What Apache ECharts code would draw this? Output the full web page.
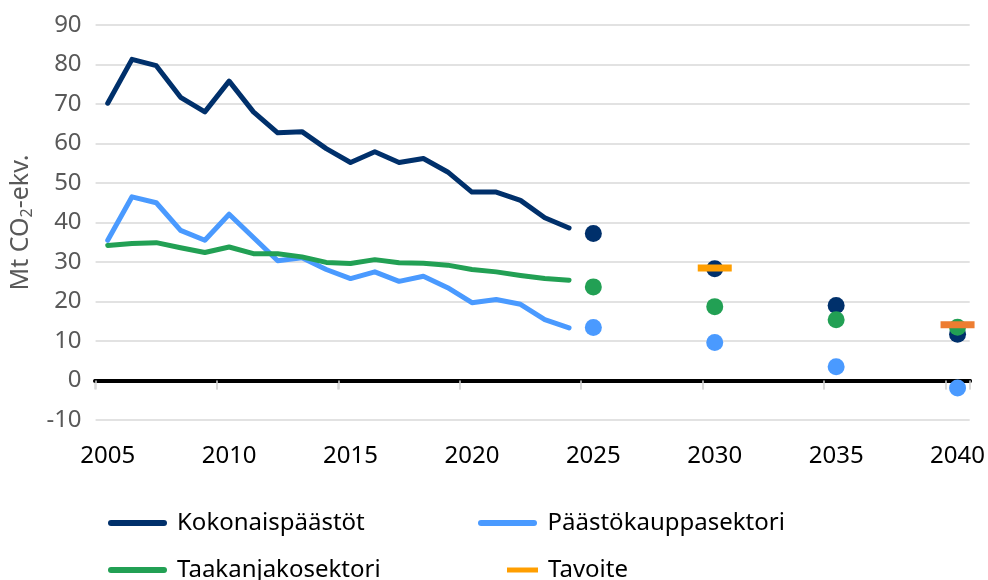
<!DOCTYPE html>
<html>
<head>
<meta charset="utf-8">
<script src="https://cdn.jsdelivr.net/npm/echarts@6/dist/echarts.min.js"></script>
<style>
  html, body { margin: 0; padding: 0; background: #fff; }
  #chart { width: 988px; height: 580px; }
</style>
</head>
<body>
<div id="chart"></div>
<script>
// vuodet (kategoria-akseli)
const years = [
  "2005", "2006", "2007", "2008", "2009", "2010", "2011", "2012", "2013",
  "2014", "2015", "2016", "2017", "2018", "2019", "2020", "2021", "2022",
  "2023", "2024", "2025", "2026", "2027", "2028", "2029", "2030", "2031",
  "2032", "2033", "2034", "2035", "2036", "2037", "2038", "2039", "2040",
];

// toteutuneet päästöt 2005-2024
const kokonais = [70.2, 81.3, 79.7, 71.7, 68.0, 75.8, 68.0, 62.7, 63.0, 58.7,
  55.2, 57.9, 55.2, 56.2, 52.8, 47.7, 47.7, 45.6, 41.2, 38.6];
const paastokauppa = [35.5, 46.5, 45.0, 38.0, 35.5, 42.1, 36.2, 30.3, 31.1, 28.1,
  25.8, 27.5, 25.1, 26.4, 23.5, 19.7, 20.5, 19.3, 15.4, 13.3];
const taakanjako = [34.2, 34.7, 34.9, 33.6, 32.4, 33.8, 32.1, 32.1, 31.3, 29.9,
  29.6, 30.6, 29.8, 29.7, 29.2, 28.1, 27.5, 26.6, 25.8, 25.4];

// ennusteet
const ennusteYears = ["2025", "2030", "2035", "2040"];
const kokonaisEnnuste = [37.2, 28.3, 19.0, 11.7];
const paastokauppaEnnuste = [13.4, 9.6, 3.5, -1.9];
const taakanjakoEnnuste = [23.7, 18.7, 15.4, 13.5];

// tavoitteet
const tavoiteYears = ["2030", "2040"];
const tavoite = [28.5, 14.1];

const navy = "#00306B";
const blue = "#4A9AFF";
const green = "#22A054";
const orange = "#FF9E00";
const tavoiteColors = ["#FF9E00", "#ED7D31"];

const font = "Noto Sans";

const pair = (xs, ys) => xs.map((x, i) => [x, ys[i]]);

const lineSeries = (name, data, color) => ({
  name: name,
  type: "line",
  data: data,
  symbol: "none",
  lineStyle: { color: color, width: 5, cap: "round", join: "round" },
  itemStyle: { color: color },
  z: 3,
});

const dotSeries = (name, data, color, z) => ({
  name: name,
  type: "scatter",
  data: pair(ennusteYears, data),
  symbolSize: 17,
  itemStyle: { color: color, opacity: 1 },
  z: z,
});

const lineIcon = "path://M3,0H56A3,3,0,0,1,56,6H3A3,3,0,0,1,3,0Z";

const legendItem = (name, left, top, width, height, icon, color) => ({
  left: left,
  top: top,
  itemWidth: width,
  itemHeight: height,
  data: [{ name: name, icon: icon, itemStyle: { color: color } }],
  selectedMode: false,
  textStyle: { fontFamily: font, fontSize: 24, color: "#000", padding: [0, 0, 0, 5] },
});

const tickStyle = { color: "#D9D9D9", width: 1.5 };
const gridRect = { left: 95, right: 18, top: 25, bottom: 160 };

const option = {
  animation: false,
  // toinen, samankokoinen grid vain alaspäin osoittavia väliviivoja varten
  grid: [gridRect, gridRect],
  legend: [
    legendItem("Kokonaispäästöt", 103, 506, 59, 6, lineIcon, navy),
    legendItem("Päästökauppasektori", 473, 506, 60, 6, lineIcon, blue),
    legendItem("Taakanjakosektori", 103, 553, 59, 6, lineIcon, green),
    legendItem("Tavoite", 502, 553, 31, 5, "rect", orange),
  ],
  xAxis: [
    {
      // alareunan vuosiluvut
      type: "category",
      data: years,
      position: "bottom",
      boundaryGap: true,
      axisLine: { show: false, onZero: false },
      axisTick: { show: false },
      splitLine: { show: false },
      axisLabel: {
        interval: 4,
        margin: 24,
        fontFamily: font,
        fontSize: 24,
        color: "#000",
      },
    },
    {
      // nollaviiva ja väliviivat ylöspäin
      type: "category",
      data: years,
      boundaryGap: true,
      axisLine: { show: true, onZero: true, lineStyle: { color: "#000", width: 4 } },
      axisTick: { show: true, interval: 4, inside: true, length: 9, lineStyle: tickStyle },
      axisLabel: { show: false },
      splitLine: { show: false },
      z: 2,
    },
    {
      // väliviivat alaspäin
      gridIndex: 1,
      type: "category",
      data: years,
      boundaryGap: true,
      axisLine: { show: true, onZero: true, lineStyle: { color: "#000", width: 4 } },
      axisTick: { show: true, interval: 4, inside: false, length: 9, lineStyle: tickStyle },
      axisLabel: { show: false },
      splitLine: { show: false },
      z: 1,
    },
  ],
  yAxis: [
    {
      type: "value",
      min: -10,
      max: 90,
      interval: 10,
      name: "Mt CO{sub|2}-ekv.",
      nameLocation: "middle",
      nameGap: 58,
      nameTextStyle: {
        fontFamily: font,
        fontSize: 25,
        color: "#595959",
        rich: {
          sub: { fontFamily: font, fontSize: 16, color: "#595959", verticalAlign: "bottom", padding: [14, 0, 0, 0] },
        },
      },
      axisLine: { show: false },
      axisTick: { show: false },
      axisLabel: { margin: 14, fontFamily: font, fontSize: 24, color: "#595959" },
      splitLine: { lineStyle: { color: "#D9D9D9", width: 1.5 } },
    },
    {
      gridIndex: 1,
      type: "value",
      min: -10,
      max: 90,
      interval: 10,
      show: false,
      splitLine: { show: false },
    },
  ],
  series: [
    lineSeries("Kokonaispäästöt", kokonais, navy),
    lineSeries("Päästökauppasektori", paastokauppa, blue),
    lineSeries("Taakanjakosektori", taakanjako, green),
    dotSeries("Kokonaispäästöt, ennuste", kokonaisEnnuste, navy, 4),
    dotSeries("Päästökauppasektori, ennuste", paastokauppaEnnuste, blue, 5),
    dotSeries("Taakanjakosektori, ennuste", taakanjakoEnnuste, green, 6),
    {
      name: "Tavoite",
      type: "scatter",
      symbol: "rect",
      symbolSize: [34, 7],
      itemStyle: { color: orange, opacity: 1 },
      data: tavoiteYears.map((y, i) => ({
        value: [y, tavoite[i]],
        itemStyle: { color: tavoiteColors[i] },
      })),
      z: 7,
    },
  ],
};

const chart = echarts.init(document.getElementById("chart"));
chart.setOption(option);
</script>
</body>
</html>
